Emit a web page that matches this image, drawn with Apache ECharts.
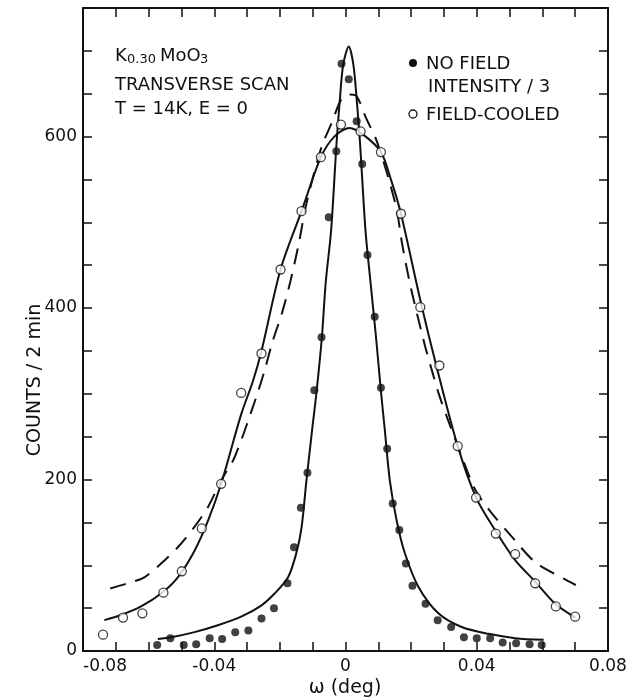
<!DOCTYPE html>
<html>
<head>
<meta charset="utf-8">
<script src="https://cdn.jsdelivr.net/npm/echarts@6/dist/echarts.min.js"></script>
<style>
html, body { margin: 0; padding: 0; background: #fff; }
#container { width: 634px; height: 700px; }
</style>
</head>
<body>
<div id="container"></div>
<script>
var dom = document.getElementById("container");
var myChart = echarts.init(dom);

// filled dots: no field, intensity / 3
var noFieldX = [-0.0574, -0.0534, -0.0493, -0.0455, -0.0414, -0.0376, -0.0336, -0.0296, -0.0256, -0.0218,
    -0.0177, -0.0157, -0.0136, -0.0116, -0.0095, -0.0073, -0.0051, -0.0028, -0.0012, 0.0010,
    0.0034, 0.0051, 0.0067, 0.0089, 0.0108, 0.0127, 0.0144, 0.0164, 0.0184, 0.0204,
    0.0244, 0.0281, 0.0322, 0.0361, 0.0400, 0.0441, 0.0479, 0.0520, 0.0561, 0.0598];
var noFieldY = [7, 15, 7, 8, 15, 14, 22, 24, 38, 50,
    79, 121, 167, 208, 304, 366, 506, 583, 685, 667,
    618, 568, 462, 390, 307, 236, 172, 141, 102, 76,
    55, 36, 28, 16, 15, 15, 10, 9, 8, 7];

// open dots: field-cooled
var fieldCooledX = [-0.0739, -0.0678, -0.0619, -0.0555, -0.0499, -0.0438, -0.0379, -0.0318, -0.0256, -0.0198,
    -0.0134, -0.0075, -0.0014, 0.0046, 0.0108, 0.0169, 0.0228, 0.0286, 0.0342, 0.0398,
    0.0458, 0.0517, 0.0578, 0.0641, 0.0700];
var fieldCooledY = [19, 39, 44, 68, 93, 143, 195, 301, 347, 445,
    513, 576, 614, 606, 582, 510, 401, 333, 239, 179,
    137, 113, 79, 52, 40];

// fitted curves
var fitNarrowX = [-0.0572, -0.0531, -0.0460, -0.0389, -0.0318, -0.0257, -0.0216, -0.0175, -0.0150, -0.0134,
    -0.0119, -0.0102, -0.0088, -0.0072, -0.0060, -0.0044, -0.0027, -0.0017, -0.0007,
    0.0010, 0.0024, 0.0034, 0.0044, 0.0061, 0.0076, 0.0093, 0.0107, 0.0120,
    0.0135, 0.0156, 0.0181, 0.0222, 0.0283, 0.0354, 0.0436, 0.0517, 0.0604];
var fitNarrowY = [14, 16, 22, 30, 40, 53, 67, 86, 114, 144,
    199, 257, 303, 366, 431, 490, 594, 644, 684,
    705, 684, 644, 594, 490, 431, 366, 307, 257,
    199, 152, 114, 75, 44, 28, 20, 15, 13];

var fitBroadX = [-0.0735, -0.0684, -0.0623, -0.0562, -0.0511, -0.0460, -0.0419, -0.0379, -0.0318, -0.0282,
    -0.0256, -0.0198, -0.0134, -0.0075, -0.0034, 0.0012, 0.0055, 0.0108, 0.0140, 0.0169,
    0.0230, 0.0278, 0.0342, 0.0398, 0.0456, 0.0517, 0.0578, 0.0639, 0.0700];
var fitBroadY = [36, 42, 52, 67, 86, 117, 152, 195, 276, 315,
    350, 445, 513, 576, 600, 610, 602, 582, 548, 510,
    406, 331, 239, 179, 141, 106, 81, 55, 39];

var fitDashedX = [-0.0717, -0.0664, -0.0613, -0.0562, -0.0511, -0.0460, -0.0419, -0.0379, -0.0338, -0.0273,
    -0.0246, -0.0223, -0.0193, -0.0168, -0.0143, -0.0119, -0.0073, -0.0043, -0.0012, 0.0012,
    0.0034, 0.0061, 0.0097, 0.0153, 0.0173, 0.0195, 0.0217, 0.0243, 0.0265, 0.0285,
    0.0310, 0.0359, 0.0397, 0.0443, 0.0512, 0.0580, 0.0672, 0.0702];
var fitDashedY = [73, 79, 86, 102, 121, 145, 168, 199, 226, 295,
    328, 360, 395, 431, 474, 522, 588, 615, 644, 649,
    647, 623, 593, 520, 474, 431, 395, 355, 325, 299,
    272, 222, 187, 162, 131, 103, 83, 77];

var xLabelValues = [-0.08, -0.04, 0, 0.04, 0.08];
var yLabelValues = [0, 200, 400, 600];

function pairs(xs, ys) {
    return xs.map(function (x, i) { return [x, ys[i]]; });
}

var ink = '#111';
var fontFamily = '"DejaVu Sans", sans-serif';

function xLabel(v) {
    var k = Math.round(v * 100);
    for (var i = 0; i < xLabelValues.length; i++) {
        if (Math.round(xLabelValues[i] * 100) === k) {
            return k === 0 ? '0' : xLabelValues[i].toFixed(2);
        }
    }
    return '';
}
function yLabel(v) {
    return yLabelValues.indexOf(Math.round(v)) >= 0 ? String(Math.round(v)) : '';
}

var frameLine = { show: true, onZero: false, lineStyle: { color: ink, width: 2 } };
var frameTick = { show: true, inside: true, length: 9, lineStyle: { color: ink, width: 1.5 } };

var option = {
    backgroundColor: '#fff',
    animation: false,
    grid: { left: 83, right: 26, top: 8, bottom: 49 },
    xAxis: [{
        type: 'value', min: -0.08, max: 0.08, interval: 0.01, position: 'bottom',
        axisLine: frameLine, axisTick: frameTick, splitLine: { show: false },
        axisLabel: {
            formatter: xLabel, color: ink, fontSize: 17, fontFamily: fontFamily,
            margin: 7, alignMinLabel: 'left'
        }
    }, {
        type: 'value', min: -0.08, max: 0.08, interval: 0.01, position: 'top',
        axisLine: frameLine, axisTick: frameTick, splitLine: { show: false },
        axisLabel: { show: false }
    }],
    yAxis: [{
        type: 'value', min: 0, max: 750, interval: 50, position: 'left',
        axisLine: frameLine, axisTick: frameTick, splitLine: { show: false },
        axisLabel: { formatter: yLabel, color: ink, fontSize: 17, fontFamily: fontFamily, margin: 6 }
    }, {
        type: 'value', min: 0, max: 750, interval: 50, position: 'right',
        axisLine: frameLine, axisTick: frameTick, splitLine: { show: false },
        axisLabel: { show: false }
    }],
    graphic: [
        { type: 'text', x: 35, y: 380, rotation: Math.PI / 2,
          style: { text: 'COUNTS / 2 min', font: '19px ' + fontFamily, fill: ink, align: 'center', verticalAlign: 'middle' } },
        { type: 'text', x: 345, y: 688,
          style: { text: 'ω (deg)', font: '19px ' + fontFamily, fill: ink, align: 'center', verticalAlign: 'middle' } },

        { type: 'text', x: 115, y: 56, style: { text: 'K', font: '18px ' + fontFamily, fill: ink, verticalAlign: 'middle' } },
        { type: 'text', x: 127, y: 60, style: { text: '0.30', font: '13px ' + fontFamily, fill: ink, verticalAlign: 'middle' } },
        { type: 'text', x: 160, y: 56, style: { text: 'MoO', font: '18px ' + fontFamily, fill: ink, verticalAlign: 'middle' } },
        { type: 'text', x: 200, y: 60, style: { text: '3', font: '13px ' + fontFamily, fill: ink, verticalAlign: 'middle' } },
        { type: 'text', x: 115, y: 85, style: { text: 'TRANSVERSE SCAN', font: '18px ' + fontFamily, fill: ink, verticalAlign: 'middle' } },
        { type: 'text', x: 115, y: 109, style: { text: 'T = 14K, E = 0', font: '18px ' + fontFamily, fill: ink, verticalAlign: 'middle' } },

        { type: 'circle', shape: { cx: 413, cy: 63, r: 4 }, style: { fill: ink } },
        { type: 'text', x: 426, y: 64, style: { text: 'NO FIELD', font: '18px ' + fontFamily, fill: ink, verticalAlign: 'middle' } },
        { type: 'text', x: 428, y: 87, style: { text: 'INTENSITY / 3', font: '18px ' + fontFamily, fill: ink, verticalAlign: 'middle' } },
        { type: 'circle', shape: { cx: 413, cy: 114, r: 4 }, style: { fill: '#fff', stroke: ink, lineWidth: 1.3 } },
        { type: 'text', x: 426, y: 115, style: { text: 'FIELD-COOLED', font: '18px ' + fontFamily, fill: ink, verticalAlign: 'middle' } }
    ],
    series: [{
        name: 'fit no field', type: 'line', data: pairs(fitNarrowX, fitNarrowY),
        showSymbol: false, smooth: 0.3, z: 2,
        lineStyle: { color: ink, width: 2 }
    }, {
        name: 'fit field-cooled', type: 'line', data: pairs(fitBroadX, fitBroadY),
        showSymbol: false, smooth: 0.3, z: 2,
        lineStyle: { color: ink, width: 2 }
    }, {
        name: 'fit dashed', type: 'line', data: pairs(fitDashedX, fitDashedY),
        showSymbol: false, smooth: 0.3, z: 2,
        lineStyle: { color: ink, width: 2, type: [16, 10] }
    }, {
        name: 'NO FIELD', type: 'scatter', data: pairs(noFieldX, noFieldY),
        symbol: 'circle', symbolSize: 8, z: 4,
        itemStyle: { color: ink }
    }, {
        name: 'FIELD-COOLED', type: 'scatter', data: pairs(fieldCooledX, fieldCooledY),
        symbol: 'circle', symbolSize: 9, z: 5,
        itemStyle: { color: '#fff', borderColor: ink, borderWidth: 1.3 }
    }]
};

myChart.setOption(option);
</script>
</body>
</html>
